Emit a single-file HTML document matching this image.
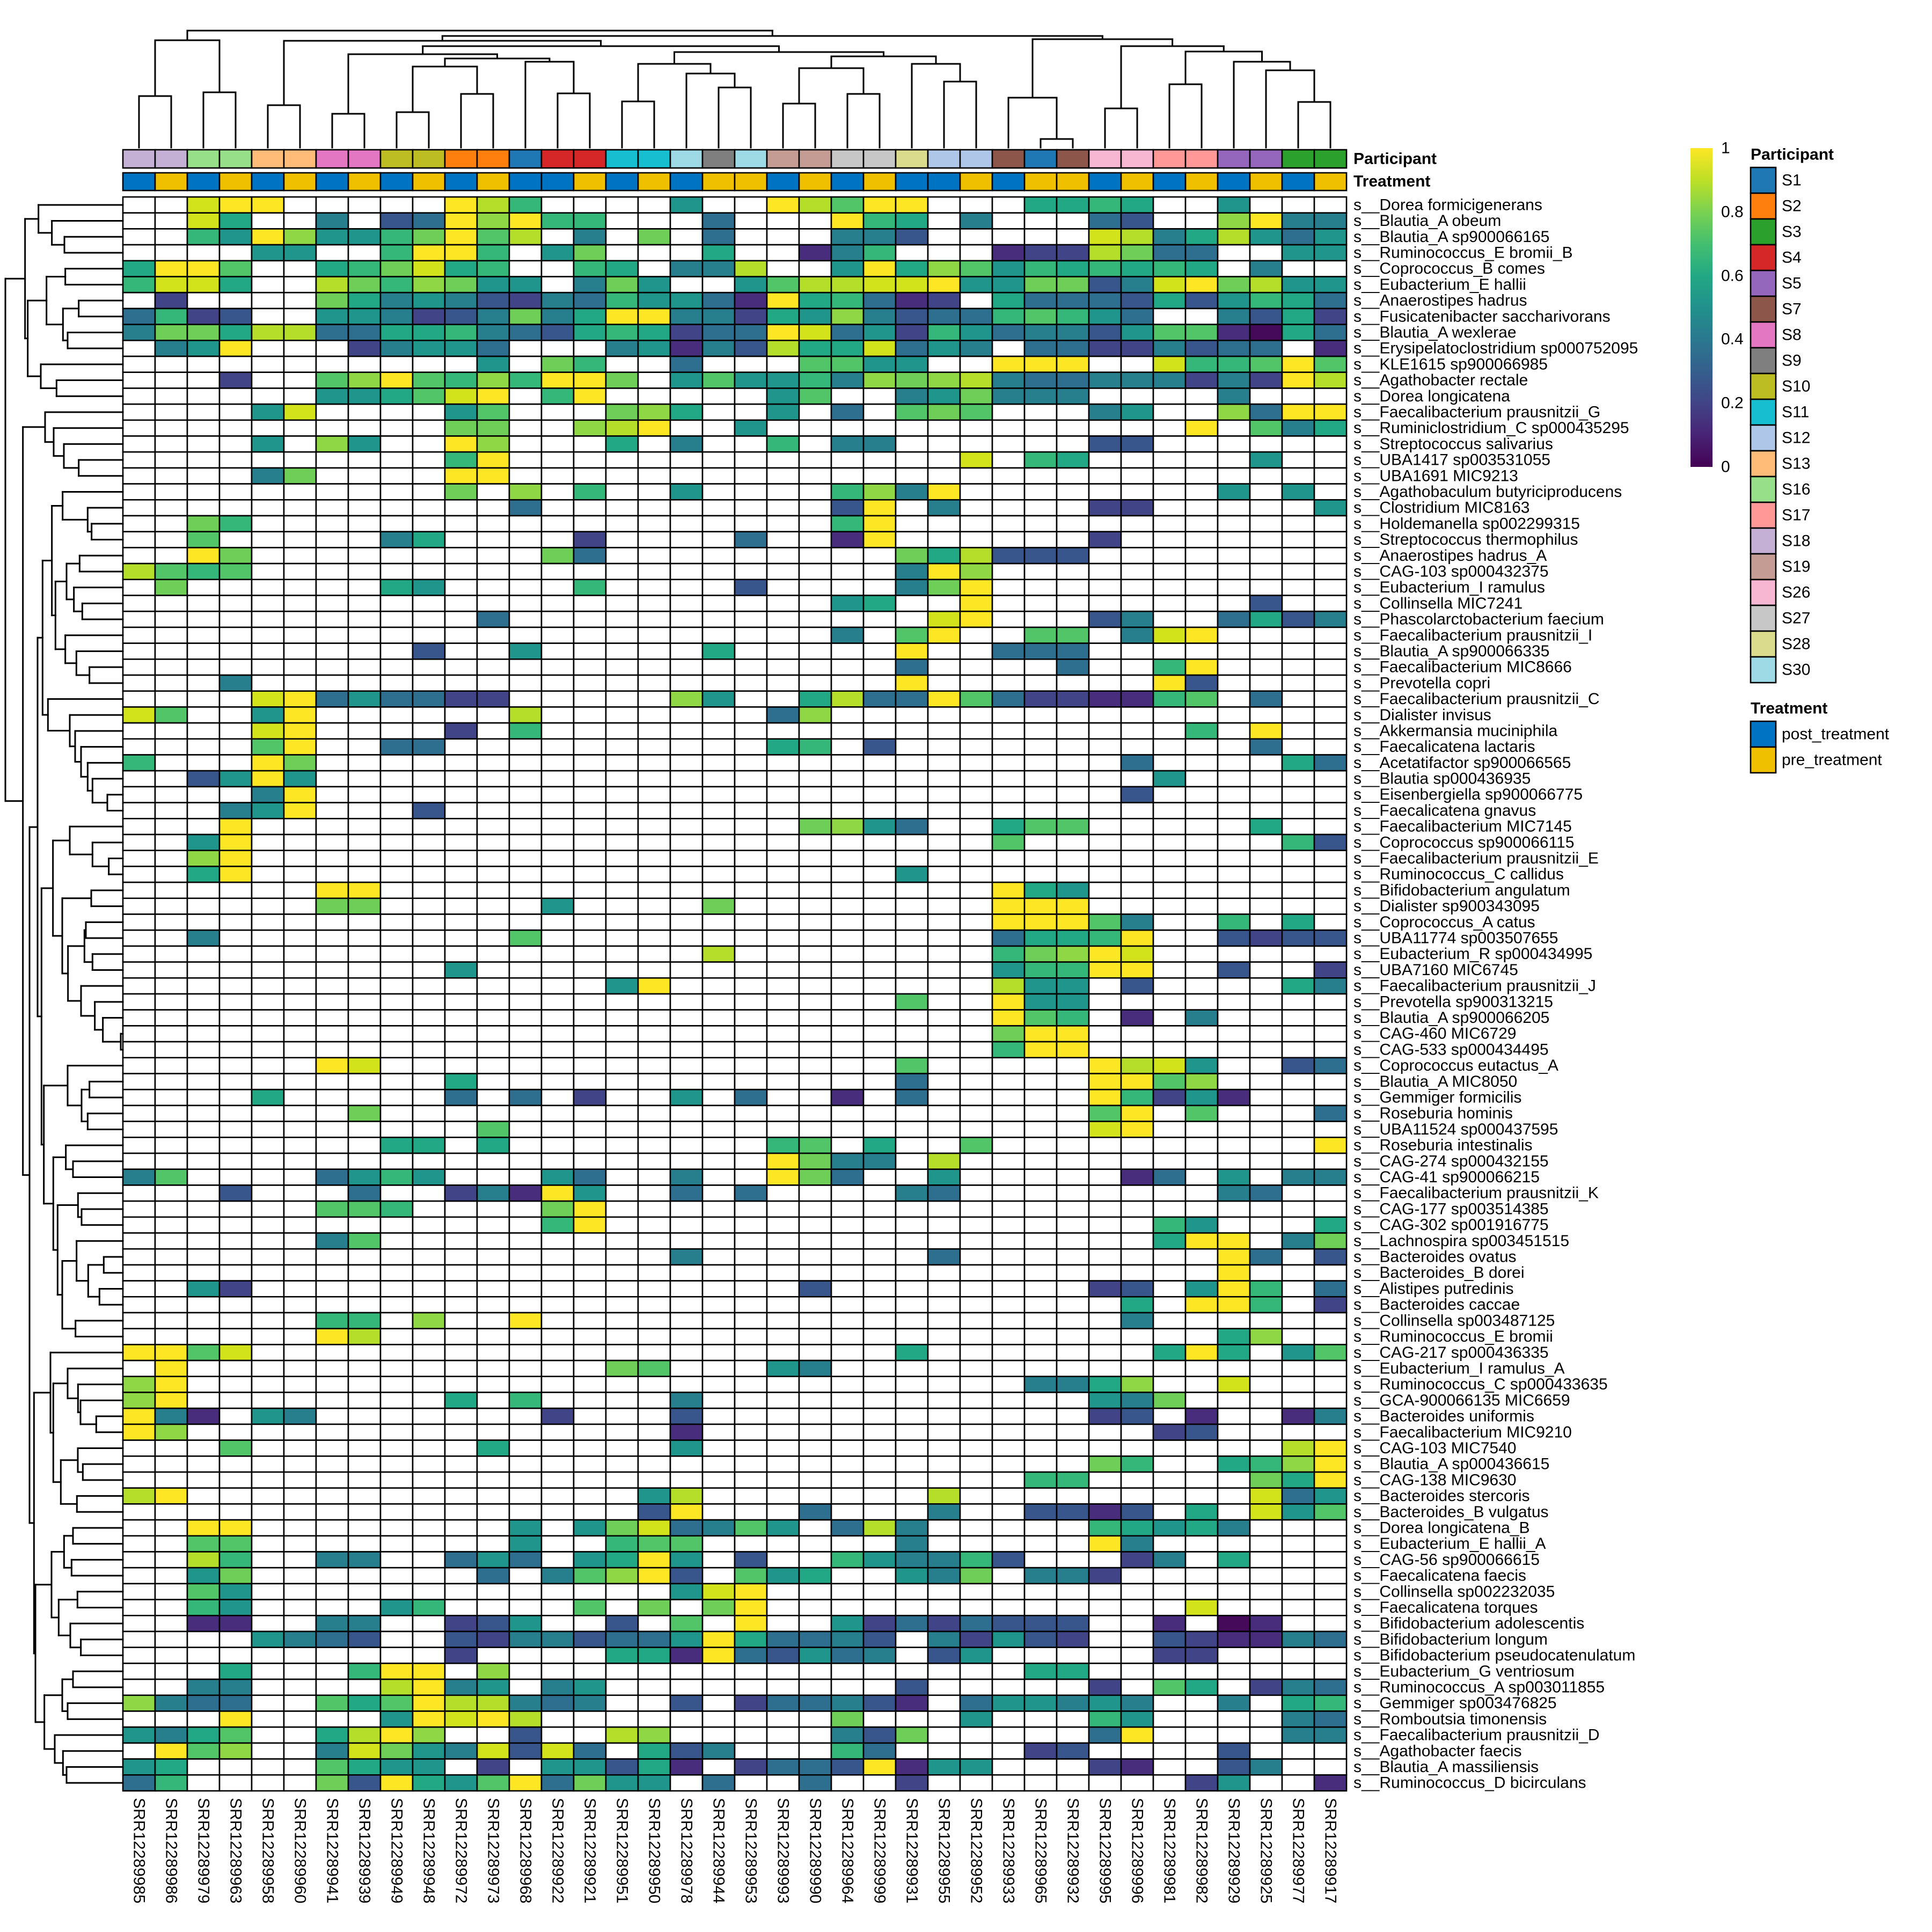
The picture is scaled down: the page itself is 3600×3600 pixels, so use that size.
<!DOCTYPE html>
<html><head><meta charset="utf-8">
<style>
html,body{margin:0;padding:0;background:#fff;}
svg{display:block;}
text{font-family:"Liberation Sans",Arial,sans-serif;fill:#000;}
</style></head>
<body>
<svg id="s" xmlns="http://www.w3.org/2000/svg" width="3600" height="3600" viewBox="0 0 3600 3600"></svg>
<script>
const NS="http://www.w3.org/2000/svg";
const svg=document.getElementById('s');
let out=[];
function R(x,y,w,h,f,st,sw){out.push(`<rect x="${x}" y="${y}" width="${w}" height="${h}" fill="${f}"${st?` stroke="${st}" stroke-width="${sw}"`:''}/>`);}
function L(x1,y1,x2,y2,sw){out.push(`<line x1="${x1}" y1="${y1}" x2="${x2}" y2="${y2}" stroke="#000" stroke-width="${sw||3}" stroke-linecap="square"/>`);}
function T(x,y,s,opt){opt=opt||{};out.push(`<text x="${x}" y="${y}" font-size="${opt.fs||30}"${opt.b?' font-weight="bold"':''}${opt.a?` text-anchor="${opt.a}"`:''} dominant-baseline="central"${opt.tr?` transform="${opt.tr}"`:''}>${s}</text>`);}

const X0=229,CW=60,Y0=367,RH=29.7,NC=38,NR=100;
const C={'Y':'#fde725','J':'#d2e21b','I':'#b5de2b','H':'#8fd744','F':'#6ece58','E':'#52c569','D':'#35b779','C':'#22a884','B':'#1f958b','T':'#277f8e','U':'#2e6e8e','V':'#39568c','W':'#414487','P':'#472d7b','Q':'#450b5a','.':'#ffffff'};
const rows=[
"..JYY.....YID....B.",".YIEYY...CCDC..B...",
"..JC..T.VUYHYDD...U","...YDC.T...UV..HYTT",
"..DBYHBBDFYEI.T.F.U","...TTV.....JITCIBUB",
"....BB..DYYD.BF...C","..PTD...PWWIFUU..BB",
"CYYE..CDFJCD..DC.TT","I..BYCHEBDCDCDC.T..",
"DJJC..IFDHFBB.TFB..","BEIIJJYBBFFVTJYFIBB",
".W....FCTBTVWTUDBBU","PYCDUPW.CUUUVCVBDCU",
"UDWV..BBTWVTFTCYYTT","WCBHTVUUDEDBU..TVCW",
"TFFCIIUUCCDTUVCDCWU","UYJUBWDBUTTVBEEPQCU",
".TBY...WTBBU...TBPT","VICCJUBT.UUWWTVUU.P",
"...........B.FD..U.","..EEBB..YYY..JDDEYE",
"...W..EHYEDHDYYF.BE","BBDTHFHITUUTTTWTWYI",
"......BBCEJY.DY....",".BE..TBFTTT....T...",
"....BJ....BE...FHC.",".B.U.EFE...TB..HUYY",
"..........FF..HIY..","B.............Y.ETC",
"....B.HB..YH...C.T.",".D.TT......VV......",
"..........DY.......",".......J.DC.....B..",
"....TF....YY.......","...................",
"..........F.H.D..B.","...DHTY........B.B.",
"............U......","...VY.T....WW.....B",
"..FD...............","...DY..............",
"..E.....TC....W....","U..PY......W.......",
"..YF.........FU....",".....FCIVVV........",
"IEDE...............",".....TYH...........",
".F......CB....D....","V....TFY...........",
"...................","...BC..Y........V..",
"...........U.......","......JY...VT..UCVT",
"...................","...T.EY..EE.TJY....",
".........V..B.....C",".....Y..UUU........",
"...................",".....U....U..DY....",
"...T...............",".....Y.......YV....",
"....JYUBUUWW.....HB","..CIUUYEUWWPPDE.U..",
"JE..BY......I......",".UH................",
"....JY....W.D......","..............D.Y..",
"....EY..UU.........",".CD.V...........U..",
"D...YF.............","............U....CU",
"..VBYB.............",".............B.....",
"....TY.............","............V......",
"...TBY...V.........","...................",
"...Y...............","..FHBU..CEE.....C..",
"..BY...............","........E........DV",
"..HY...............","...................",
"..CY...............",".....B.............",
"......YY...........","........YCB........",
"......FF.....B....F","........YYY........",
"...................","........YYYET..D.C.",
"..T.........E......","........UCCDY..VWVV",
"..................I","........DFHYJ......",
"..........B........","........BDDYY..V..W",
"...............BY..","........IBB.V....CT",
"...................",".....E..YBB........",
"...................","........YED.P.T....",
"...................","........FYY........",
"...................","........DYY........",
"......YJ...........",".....E.....YIJB..VU",
"..........C........",".....U.....YYEH....",
"....C.....U.U.W..B.","U..P.U.....YDWBP...",
".......F...........","...........EY.E...U",
"...........E.......","...........JY......",
"........CC.C.......",".DE.C..E..........Y",
"...................",".YFTT.I............",
"TE....UBDB...BU..T.",".YFU..B.....PU.B.TT",
"...V...U..WTPYB..U.","U....TU........TU..",
"......EED....FY....","...................",
".............DY....",".............DB...C",
"......TE...........",".............CYY.TF",
".................T.","......U........YU.V",
"...................","...............Y...",
"..BW...............","..V........WV.BYD.U",
"...................","............C.YYD.W",
"......DD.H..Y......","............T......",
"......YI...........","...............CH..",
"YYEJ...............",".....C.......CYC.BE",
".Y.............FE..",".BT................",
"HY.................",".........TTCH..J...",
"HY........C.D....T.","...........BTF.....",
"YTP.BT.......W...V.","...........WV.P..PT",
"YH...............P.",".............WV....",
"...E.......C.....B.",".................IY",
"...................","...........FD..CDHY",
"...................",".........DD.....FCY",
"IY..............BI.","......I.........JUB",
"................VY.","..U...T..VVPV.C.JBE",
"..YY........B.BFJUT","EB.UIT.....DCBCT...",
"..EE........B..DEE.",".....T.....YT......",
"..ID..TT..UBU.BCYB.","V..DBTTDV...WT.C...",
"..BF.......U.TEHYV.","EBC..BTF.TTW.......",
"..EB.............BJ","Y..................",
"..DB....BD....E.F.F","Y.............J....",
"..PP..TT..WVB..V.E.","Y..BWUWUVVV..P.QP..",
"....BTUV..VWTTVUUBY","CUUTV.TWBVW..VWPPTU",
"..........W....CCPY","UVBUT.VB.....WW....",
"...C...DYY.H.......",".........CC........",
"..TT....IYTB.TB....",".....V.....W.EC.WTU",
"HTUU..ECEYIITUT..V.","WUUTVP.UBBTBT..T.CD",
"...Y....BYJYI......","...F...B...DB....TU",
"BTCE..CIYH..V..IH..","...TVF.....UY....TT",
".YEH..TJFBTJVJU.CVT","...DU....WV....V...",
"BC....ECBB.W.BBVCP.","WUUVYPBB...WP..VT..",
"UD....FVYCBEYUFBB.U","..U..W........WB..P"
];
const names=["Dorea formicigenerans","Blautia_A obeum","Blautia_A sp900066165","Ruminococcus_E bromii_B","Coprococcus_B comes","Eubacterium_E hallii","Anaerostipes hadrus","Fusicatenibacter saccharivorans","Blautia_A wexlerae","Erysipelatoclostridium sp000752095","KLE1615 sp900066985","Agathobacter rectale","Dorea longicatena","Faecalibacterium prausnitzii_G","Ruminiclostridium_C sp000435295","Streptococcus salivarius","UBA1417 sp003531055","UBA1691 MIC9213","Agathobaculum butyriciproducens","Clostridium MIC8163","Holdemanella sp002299315","Streptococcus thermophilus","Anaerostipes hadrus_A","CAG-103 sp000432375","Eubacterium_I ramulus","Collinsella MIC7241","Phascolarctobacterium faecium","Faecalibacterium prausnitzii_I","Blautia_A sp900066335","Faecalibacterium MIC8666","Prevotella copri","Faecalibacterium prausnitzii_C","Dialister invisus","Akkermansia muciniphila","Faecalicatena lactaris","Acetatifactor sp900066565","Blautia sp000436935","Eisenbergiella sp900066775","Faecalicatena gnavus","Faecalibacterium MIC7145","Coprococcus sp900066115","Faecalibacterium prausnitzii_E","Ruminococcus_C callidus","Bifidobacterium angulatum","Dialister sp900343095","Coprococcus_A catus","UBA11774 sp003507655","Eubacterium_R sp000434995","UBA7160 MIC6745","Faecalibacterium prausnitzii_J","Prevotella sp900313215","Blautia_A sp900066205","CAG-460 MIC6729","CAG-533 sp000434495","Coprococcus eutactus_A","Blautia_A MIC8050","Gemmiger formicilis","Roseburia hominis","UBA11524 sp000437595","Roseburia intestinalis","CAG-274 sp000432155","CAG-41 sp900066215","Faecalibacterium prausnitzii_K","CAG-177 sp003514385","CAG-302 sp001916775","Lachnospira sp003451515","Bacteroides ovatus","Bacteroides_B dorei","Alistipes putredinis","Bacteroides caccae","Collinsella sp003487125","Ruminococcus_E bromii","CAG-217 sp000436335","Eubacterium_I ramulus_A","Ruminococcus_C sp000433635","GCA-900066135 MIC6659","Bacteroides uniformis","Faecalibacterium MIC9210","CAG-103 MIC7540","Blautia_A sp000436615","CAG-138 MIC9630","Bacteroides stercoris","Bacteroides_B vulgatus","Dorea longicatena_B","Eubacterium_E hallii_A","CAG-56 sp900066615","Faecalicatena faecis","Collinsella sp002232035","Faecalicatena torques","Bifidobacterium adolescentis","Bifidobacterium longum","Bifidobacterium pseudocatenulatum","Eubacterium_G ventriosum","Ruminococcus_A sp003011855","Gemmiger sp003476825","Romboutsia timonensis","Faecalibacterium prausnitzii_D","Agathobacter faecis","Blautia_A massiliensis","Ruminococcus_D bicirculans"];
const cols=["85","86","79","63","58","60","41","39","49","48","72","73","68","22","21","51","50","78","44","53","93","90","64","99","31","55","52","33","65","32","95","96","81","82","29","25","77","17"];
const part=[18,18,16,16,13,13,8,8,10,10,2,2,1,4,4,11,11,30,9,30,19,19,27,27,28,12,12,7,1,7,26,26,17,17,5,5,3,3];
const trt="PEPEPEPEPEPEPPEPEPEEPEPEPPEPEEPEPEPEPE";
const PC={1:'#1f77b4',2:'#ff7f0e',3:'#2ca02c',4:'#d62728',5:'#9467bd',7:'#8c564b',8:'#e377c2',9:'#7f7f7f',10:'#bcbd22',11:'#17becf',12:'#aec7e8',13:'#ffbb78',16:'#98df8a',17:'#ff9896',18:'#c5b0d5',19:'#c49c94',26:'#f7b6d2',27:'#c7c7c7',28:'#dbdb8d',30:'#9edae5'};
const TC={P:'#0073c2',E:'#efc000'};

// heatmap cells
for(let r=0;r<NR;r++){
  const s=rows[2*r]+rows[2*r+1];
  for(let c=0;c<NC;c++){
    R(X0+c*CW,(Y0+r*RH).toFixed(2),CW,RH.toFixed(2),C[s[c]]||'#fff','#000',2.6);
  }
}
// annotations
for(let c=0;c<NC;c++){
  R(X0+c*CW,279,CW,34,PC[part[c]],'#000',2.6);
  R(X0+c*CW,322,CW,33,TC[trt[c]],'#000',2.6);
}
T(2522,296,'Participant',{b:1});
T(2522,338,'Treatment',{b:1});
// row labels
for(let r=0;r<NR;r++) T(2522,(Y0+r*RH+RH/2).toFixed(1),'s__'+names[r]);
// col labels
for(let c=0;c<NC;c++){const x=X0+c*CW+CW/2;T(x,3350,'SRR122899'+cols[c],{tr:`rotate(90 ${x} 3350)`});}
// fix col label: x coordinate handled by rotate; need text at (x,3350)
// column dendrogram
function N(h,a,b){return {h:h,a:a,b:b};}
function colx(i){return X0+i*CW+CW/2;}
function drawCol(n){ // returns x
  if(typeof n==='number') return {x:colx(n),y:275};
  const A=drawCol(n.a),B=drawCol(n.b);
  L(A.x,A.y,A.x,n.h);L(B.x,B.y,B.x,n.h);L(A.x,n.h,B.x,n.h);
  return {x:(A.x+B.x)/2,y:n.h};
}
const ctree=N(57,
  N(75,N(179,0,1),N(172,2,3)),
  N(67,
    N(76,N(196,4,5),
      N(86,
        N(101,N(212,6,7),N(109,N(124,N(209,8,9),N(175,10,11)),N(115,12,N(174,13,14)))),
        N(97,N(119,N(189,15,16),N(137,17,N(163,18,19))),N(105,N(127,N(193,20,21),N(175,22,23)),N(119,24,N(152,25,26)))))),
    N(73,N(182,27,N(259,28,29)),N(86,N(202,30,31),N(96,N(157,32,33),N(115,34,N(131,35,N(190,36,37))))))));
drawCol(ctree);
// row dendrogram (heights in zoom-display units /3)
function rowy(i){return Y0+i*RH+RH/2;}
function drawRow(n){
  if(typeof n==='number') return {x:229,y:rowy(n)};
  const h=n.h/3;
  const A=drawRow(n.a),B=drawRow(n.b);
  L(A.x,A.y,h,A.y);L(B.x,B.y,h,B.y);L(h,A.y,h,B.y);
  return {x:h,y:(A.y+B.y)/2};
}
const Atr=N(140,N(215,0,N(290,1,N(360,2,3))),N(155,N(260,N(365,4,5),N(352,N(440,6,7),N(378,8,9))),N(228,10,N(316,11,12))));
const D1=N(238,N(290,N(350,18,N(490,19,N(512,20,21))),N(310,N(372,N(445,22,23),N(413,24,N(460,25,26))),N(365,27,N(427,28,N(500,29,30))))),N(268,31,N(390,32,N(420,33,N(453,34,N(490,35,N(517,36,N(600,37,38))))))));
const D2=N(232,N(296,N(390,39,N(517,40,N(608,41,42))),N(348,N(510,43,44),N(380,N(472,N(480,45,46),N(517,47,48)),N(453,49,N(530,50,N(575,51,N(675,52,53))))))),N(245,N(378,54,N(456,N(500,55,56),N(490,57,58))),N(298,N(368,59,N(408,60,61)),N(322,N(436,62,N(456,63,64)),N(348,N(428,65,N(493,N(580,66,67),N(556,68,69))),N(422,70,71))))));
const E1=N(282,72,N(298,N(378,73,N(436,74,N(450,75,N(538,76,77)))),N(340,N(435,78,N(463,79,80)),N(430,81,82))));
const E2=N(198,N(288,N(358,N(408,83,84),N(400,85,86)),N(328,N(433,87,88),N(393,89,N(452,90,91)))),N(248,N(348,N(408,92,93),N(378,94,95)),N(306,96,N(352,97,N(372,98,99)))));
const rtree=N(30,Atr,N(128,N(252,13,N(300,14,N(357,15,N(440,16,17)))),N(165,N(210,D1,D2),N(190,E1,E2))));
drawRow(rtree);
// colorbar
out.push(`<defs><linearGradient id="vg" x1="0" y1="1" x2="0" y2="0">
<stop offset="0" stop-color="#440154"/><stop offset="0.1" stop-color="#482475"/><stop offset="0.2" stop-color="#414487"/>
<stop offset="0.3" stop-color="#355f8d"/><stop offset="0.4" stop-color="#2a788e"/><stop offset="0.5" stop-color="#21918c"/>
<stop offset="0.6" stop-color="#22a884"/><stop offset="0.7" stop-color="#44bf70"/><stop offset="0.8" stop-color="#7ad151"/>
<stop offset="0.9" stop-color="#bddf26"/><stop offset="1" stop-color="#fde725"/></linearGradient></defs>`);
R(3150,276,41,594,'url(#vg)');
[['1',276],['0.8',395],['0.6',514],['0.4',632],['0.2',751],['0',870]].forEach(t=>T(3207,t[1],t[0]));
// participant legend
T(3262,288,'Participant',{b:1});
const pl=[1,2,3,4,5,7,8,9,10,11,12,13,16,17,18,19,26,27,28,30];
pl.forEach((p,i)=>{R(3262,312+i*48,47,48,PC[p],'#000',2.6);T(3320,336+i*48,'S'+p);});
T(3262,1320,'Treatment',{b:1});
R(3262,1344,47,48,TC.P,'#000',2.6);T(3320,1368,'post_treatment');
R(3262,1392,47,48,TC.E,'#000',2.6);T(3320,1416,'pre_treatment');
svg.innerHTML=out.join('');
</script>
</body></html>
